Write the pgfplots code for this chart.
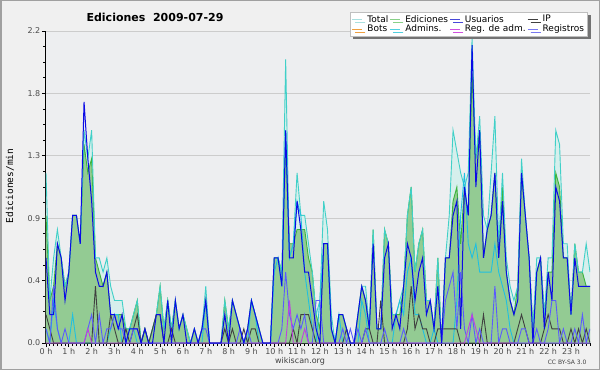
\documentclass[border=0pt]{standalone}
\usepackage{pgfplots}
\pgfplotsset{compat=1.18}
\usepackage{pgfplotstable}
\usepackage{fontspec}
\setmainfont{DejaVu Sans}
\setmonofont{DejaVu Sans Mono}
\usetikzlibrary{shadows}
\definecolor{outerbg}{RGB}{240,240,240}
\definecolor{plotbg}{RGB}{237,238,240}
\definecolor{framec}{RGB}{160,160,160}
\definecolor{totfill}{RGB}{214,239,236}
\definecolor{grfill}{RGB}{147,203,147}
\definecolor{grline}{RGB}{60,180,60}
\definecolor{totline}{RGB}{64,208,200}
\definecolor{usline}{RGB}{10,10,230}
\definecolor{ipline}{RGB}{64,64,64}
\definecolor{admline}{RGB}{32,192,224}
\definecolor{regline}{RGB}{90,90,255}
\definecolor{magline}{RGB}{192,64,224}
\definecolor{Ltot}{RGB}{168,224,224}
\definecolor{Led}{RGB}{136,208,136}
\definecolor{Lus}{RGB}{72,72,216}
\definecolor{Lbots}{RGB}{240,160,64}
\definecolor{Ladm}{RGB}{80,208,224}
\definecolor{Lregadm}{RGB}{208,80,224}
\definecolor{Lreg}{RGB}{120,120,240}
\pgfplotstableread{
k T G B D C R M
0 1.2 0.9 0.6 0.2 0.1 0.1 0
1 0.3 0.3 0.2 0.1 0 0 0
2 0.6 0.4 0.2 0 0.3 0.4 0
3 0.8 0.7 0.7 0 0.1 0.1 0
4 0.6 0.6 0.6 0 0 0 0
5 0.4 0.4 0.3 0 0 0.1 0
6 0.5 0.5 0.5 0 0 0 0
7 0.9 0.9 0.9 0 0.2 0 0
8 0.9 0.9 0.9 0 0 0 0
9 0.7 0.7 0.7 0 0 0 0
10 1.5 1.4 1.7 0 0 0 0
11 1.3 1.2 1.3 0 0 0.1 0.1
12 1.5 1.3 1.0 0 0 0.2 0
13 0.6 0.6 0.5 0.4 0 0 0
14 0.6 0.5 0.4 0 0 0.2 0
15 0.5 0.4 0.4 0 0 0 0
16 0.6 0.5 0.5 0 0 0.1 0
17 0.4 0.2 0.2 0.2 0.1 0.1 0
18 0.3 0.2 0.2 0.1 0.2 0.2 0
19 0.3 0.2 0.1 0 0.2 0.1 0
20 0.3 0.2 0.2 0 0 0.1 0
21 0.1 0.1 0 0.1 0 0 0
22 0.1 0.1 0.1 0 0.1 0 0
23 0.2 0.2 0.1 0.1 0.1 0.1 0
24 0.3 0.3 0.1 0.2 0 0.1 0
25 0 0 0 0 0 0 0
26 0.1 0.1 0.1 0.1 0 0 0
27 0 0 0 0 0 0 0
28 0.1 0.1 0 0.1 0 0 0
29 0.2 0.2 0.2 0.2 0 0 0
30 0.4 0.4 0.2 0.2 0 0 0
31 0.1 0.1 0 0 0 0 0
32 0.3 0.3 0.3 0 0 0 0
33 0.1 0.1 0 0.1 0 0 0
34 0.3 0.3 0.3 0 0 0 0
35 0.1 0.1 0.1 0 0 0 0
36 0.2 0.2 0.2 0 0 0 0
37 0.1 0.1 0 0 0 0 0
38 0 0 0 0 0 0 0
39 0.1 0.1 0.1 0 0 0 0
40 0 0 0 0 0 0 0
41 0.1 0.1 0.1 0 0 0.1 0
42 0.4 0.3 0.3 0 0.3 0.1 0
43 0 0 0 0 0 0 0
44 0 0 0 0 0 0 0
45 0 0 0 0 0 0 0
46 0 0 0 0 0 0 0
47 0.3 0.3 0.2 0.1 0 0 0
48 0.1 0.1 0 0 0 0 0
49 0.3 0.3 0.3 0.1 0 0 0
50 0.2 0.2 0.2 0 0 0 0
51 0.1 0.1 0.1 0 0 0.1 0
52 0 0 0 0.1 0 0 0
53 0.1 0.1 0.1 0 0 0.1 0
54 0.3 0.3 0.3 0.1 0.3 0 0
55 0.2 0.2 0.2 0.1 0.2 0 0
56 0.1 0.1 0.1 0 0 0 0
57 0 0 0 0 0 0 0
58 0 0 0 0 0 0 0
59 0 0 0 0 0 0 0
60 0.6 0.6 0.6 0 0.5 0 0
61 0.6 0.6 0.6 0 0.6 0 0
62 0.5 0.5 0.4 0 0.4 0.1 0
63 2.0 1.4 1.5 0 1.5 0.5 0
64 0.6 0.7 0.6 0 0.6 0.2 0.3
65 0.7 0.7 0.6 0.1 0.7 0.1 0
66 1.2 0.8 1.0 0 1.0 0.2 0
67 0.9 0.8 0.8 0.2 0.9 0.1 0
68 0.9 0.8 0.5 0.2 0.5 0.2 0.1
69 0.7 0.6 0.5 0.2 0.3 0 0
70 0.5 0.5 0.3 0.1 0.1 0 0
71 0.2 0.2 0.1 0 0 0.3 0
72 0.3 0.1 0 0 0.3 0.3 0
73 1.0 0.7 0.7 0 0.7 0 0
74 0.8 0.7 0.7 0 0.7 0 0
75 0.2 0.1 0.1 0 0.1 0 0
76 0 0 0 0 0 0 0
77 0.2 0.2 0.2 0 0.2 0 0
78 0.2 0.2 0.2 0 0 0.1 0
79 0.1 0.1 0.1 0.1 0 0 0
80 0 0 0 0 0 0.1 0
81 0 0 0 0 0 0 0
82 0.2 0.2 0.2 0 0 0.1 0
83 0.4 0.4 0.4 0 0.3 0 0
84 0.4 0.3 0.3 0.1 0.2 0.1 0
85 0.1 0.1 0.1 0.1 0 0 0
86 0.8 0.8 0.7 0 0 0 0
87 0.1 0.1 0.1 0 0 0 0
88 0.1 0.1 0.1 0.3 0 0 0
89 0.8 0.8 0.6 0 0 0.1 0
90 0.7 0.7 0.7 0 0 0 0
91 0.2 0.2 0.1 0 0 0 0
92 0.2 0.2 0.2 0 0.2 0 0
93 0.3 0.2 0.1 0 0.3 0 0
94 0.4 0.4 0.4 0 0.2 0.1 0
95 0.9 0.9 0.7 0.1 0.5 0 0
96 1.1 1.1 0.6 0.4 0.6 0 0
97 0.5 0.5 0.3 0.1 0.2 0 0
98 0.7 0.7 0.5 0.2 0.2 0 0
99 0.8 0.8 0.6 0.1 0.1 0 0
100 0.3 0.3 0.2 0.1 0 0 0
101 0.3 0.3 0.3 0 0 0 0
102 0.1 0.1 0.1 0 0.1 0 0
103 0.6 0.6 0.4 0.1 0 0 0
104 0 0 0 0.1 0 0 0
105 0.6 0.6 0.6 0.1 0 0.3 0
106 0.9 0.6 0.6 0.1 0 0.4 0
107 1.5 1.0 0.9 0.1 0 0.5 0
108 1.35 1.1 1.0 0.1 0.3 0.1 0
109 1.2 0.7 0.1 0 0.9 0.5 0
110 1.1 1.1 1.1 0 1.2 0.1 0
111 1.2 0.9 0.9 0 0.7 0 0.1
112 2.15 1.9 2.1 0 0.6 0.2 0.2
113 1.3 1.3 1.1 0 0.7 0 0.1
114 1.6 1.5 1.5 0 0.5 0.1 0
115 0.9 0.6 0.6 0.2 0.5 0 0
116 0.8 0.8 0.8 0 0.5 0 0
117 1.2 0.9 0.9 0 0.5 0 0
118 1.6 1.2 1.2 0 0.7 0.4 0
119 0.7 0.6 0.6 0 0.5 0 0
120 1.2 1.1 1.0 0 0.4 0.1 0
121 0.6 0.5 0.5 0 0.3 0.1 0
122 0.4 0.3 0.3 0 0.1 0 0
123 0.3 0.2 0.2 0 0 0 0
124 0.4 0.4 0.3 0.1 0 0 0
125 1.3 1.2 1.2 0.2 0 0.1 0
126 0.9 0.9 0.9 0.1 0 0.1 0
127 0.6 0.6 0.6 0 0 0 0
128 0.1 0.1 0 0 0 0 0
129 0.6 0.5 0.5 0 0 0.1 0
130 0.6 0.6 0.6 0 0 0 0
131 0.2 0.2 0.1 0.1 0 0 0
132 0.6 0.5 0.5 0.2 0 0.1 0
133 0.6 0.5 0.3 0.1 0 0.3 0
134 1.5 1.2 1.1 0.1 0 0.3 0
135 1.4 1.1 1.0 0.1 0 0 0
136 0.7 0.6 0.6 0 0 0.1 0
137 0.7 0.6 0.6 0 0 0 0
138 0.2 0.2 0.2 0.1 0 0 0
139 0.7 0.7 0.6 0 0 0.1 0
140 0.5 0.5 0.4 0.1 0 0 0
141 0.5 0.5 0.4 0 0 0.2 0
142 0.7 0.4 0.4 0.1 0 0 0
143 0.5 0.4 0.4 0 0 0.1 0
}\data
\begin{document}
\begin{tikzpicture}[x=1pt,y=1pt]
\fill[outerbg] (0,0) rectangle (600,370);
\useasboundingbox (0,0) rectangle (600,370);
\draw[framec,line width=1.5pt] (0.75,0.75) rectangle (599.25,369.25);
\begin{axis}[
  at={(46pt,27pt)}, anchor=south west,
  scale only axis, width=544pt, height=312pt,
  xmin=0, xmax=143, ymin=0, ymax=2.2,
  axis x line*=bottom, axis y line*=left,
  axis line style={black,line width=1pt},
  axis background/.style={fill=plotbg},
  xtick={0,6,...,138},
  xticklabels={0 h,1 h,2 h,3 h,4 h,5 h,6 h,7 h,8 h,9 h,10 h,11 h,12 h,13 h,14 h,15 h,16 h,17 h,18 h,19 h,20 h,21 h,22 h,23 h},
  minor xtick={0,1,...,143},
  ytick={0,0.44,0.88,1.32,1.76,2.2},
  yticklabels={0.0,0.4,0.9,1.3,1.8,2.2},
  minor ytick={0.11,0.22,...,2.2},
  tick align=outside,
  major tick length=4pt, minor tick length=2.5pt,
  tick style={black,line width=0.8pt},
  ymajorgrids, major grid style={draw=black!20,line width=0.8pt},
  tick label style={font=\fontsize{8}{9}\selectfont, text=black!70},
  xticklabel style={inner sep=1pt},
  yticklabel style={inner sep=1.5pt},
  clip=true,
  legend columns=4,
  legend cell align=left,
  legend style={at={(0.996,1.061)}, anchor=north east, fill=white, draw=black!25,
    font=\fontsize{9}{9}\selectfont, inner xsep=2pt, inner ysep=1pt, row sep=-2.5pt,
    /tikz/every odd column/.append style={column sep=3pt},
    /tikz/every even column/.append style={column sep=0pt},
    nodes={inner xsep=1.5pt},
    drop shadow={shadow xshift=3pt,shadow yshift=-3pt,fill=black!55,opacity=1}},
  legend image code/.code={\draw[#1,line width=0.9pt] (0pt,0pt) -- (10pt,0pt);},
]
\addplot[fill=totfill, draw=none, forget plot] table[x=k,y=T] {\data} \closedcycle;
\addplot[fill=grfill, draw=none, forget plot] table[x=k,y=G] {\data} \closedcycle;
\addplot[grline, line width=0.9pt, forget plot] table[x=k,y=G] {\data};
\addplot[totline, line width=0.9pt, forget plot] table[x=k,y=T] {\data};
\addplot[admline, line width=0.9pt, forget plot] table[x=k,y=C] {\data};
\addplot[ipline, line width=0.9pt, forget plot] table[x=k,y=D] {\data};
\addplot[regline, line width=0.9pt, forget plot] table[x=k,y=R] {\data};
\addplot[magline, line width=0.9pt, forget plot] table[x=k,y=M] {\data};
\addplot[usline, line width=1pt, forget plot] table[x=k,y=B] {\data};
\addlegendimage{Ltot}\addlegendentry{Total}
\addlegendimage{Led}\addlegendentry{Ediciones}
\addlegendimage{Lus}\addlegendentry{Usuarios}
\addlegendimage{ipline}\addlegendentry{IP}
\addlegendimage{Lbots}\addlegendentry{Bots}
\addlegendimage{Ladm}\addlegendentry{Admins.}
\addlegendimage{Lregadm}\addlegendentry{Reg. de adm.}
\addlegendimage{Lreg}\addlegendentry{Registros}
\end{axis}
\node[font=\bfseries\fontsize{11}{12}\selectfont] at (155,353) {Ediciones\ \ 2009-07-29};
\node[rotate=90, font=\ttfamily\fontsize{9.5}{10}\selectfont] at (10,184) {Ediciones/min};
\node[font=\fontsize{8}{9}\selectfont, text=black!75] at (300,9) {wikiscan.org};
\node[font=\fontsize{6}{7}\selectfont, text=black!75, anchor=east] at (590,8) {CC BY-SA 3.0};
\end{tikzpicture}
\end{document}
